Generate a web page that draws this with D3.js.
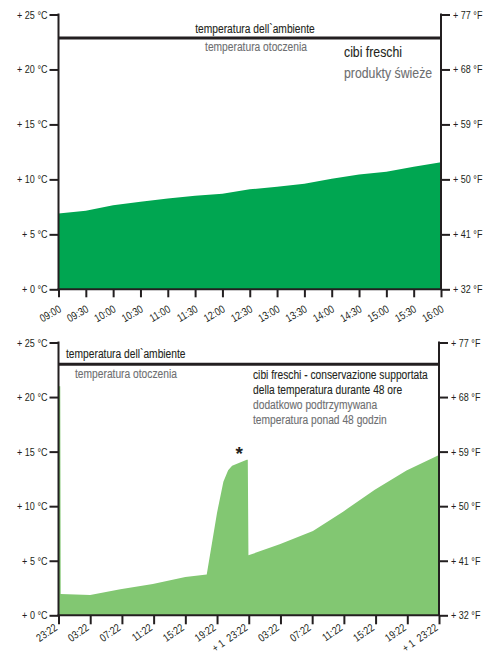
<!DOCTYPE html>
<html>
<head>
<meta charset="utf-8">
<script src="https://cdn.jsdelivr.net/npm/d3@7"></script>
<style>
  html, body { margin: 0; padding: 0; background: #fff; }
  svg { display: block; }
  text { font-family: 'Liberation Sans', Arial, sans-serif; }
</style>
</head>
<body>
<svg id="chart" width="486" height="657"></svg>
<script>
// ---------- data ----------
const topTimes = ["09:00","09:30","10:00","10:30","11:00","11:30","12:00","12:30","13:00","13:30","14:00","14:30","15:00","15:30","16:00"];
const topValues = [6.9, 7.15, 7.65, 7.97, 8.27, 8.5, 8.7, 9.1, 9.33, 9.6, 10.05, 10.45, 10.7, 11.15, 11.55];

const botHours = [0, 0.22, 0.28, 4.0, 7.8, 11.9, 16.0, 18.7, 20.0, 20.8, 21.4, 21.9, 23.75, 23.88, 23.96, 27.9, 32.1, 35.9, 39.9, 43.9, 48];
const botValues = [21, 21, 1.95, 1.86, 2.38, 2.87, 3.51, 3.73, 9.4, 12.25, 13.3, 13.7, 14.25, 14.25, 5.5, 6.5, 7.73, 9.5, 11.5, 13.27, 14.7];
const botTickHours = [0, 4, 8, 12, 16, 20, 24, 28, 32, 36, 40, 44, 48];
const botTickLabels = ["23:22","03:22","07:22","11:22","15:22","19:22","+ 1  23:22","03:22","07:22","11:22","15:22","19:22","+ 1  23:22"];

const celsiusTicks = [0, 5, 10, 15, 20, 25];
const celsiusLabels = ["+ 0 °C","+ 5 °C","+ 10 °C","+ 15 °C","+ 20 °C","+ 25 °C"];
const fahrenheitLabels = ["+ 32 °F","+ 41 °F","+ 50 °F","+ 59 °F","+ 68 °F","+ 77 °F"];
const ambientTemp = 23;
const peakMarkerHour = 22.8;
const peakMarkerTemp = 14.9;

const topTexts = { ambient: "temperatura dell`ambiente", ambientPl: "temperatura otoczenia", title: "cibi freschi", titlePl: "produkty świeże" };
const botTexts = { ambient: "temperatura dell`ambiente", ambientPl: "temperatura otoczenia",
  lines: ["cibi freschi - conservazione supportata", "della temperatura durante 48 ore"],
  linesPl: ["dodatkowo podtrzymywana", "temperatura ponad 48 godzin"] };

// ---------- drawing ----------
const svg = d3.select("#chart");
const dark = "#231f20";
const gray = "#6d6e70";
const SX = 0.82; // condensed look

function label(g, x, y, str, size, color, anchor) {
  return g.append("text")
    .attr("transform", `translate(${x},${y}) scale(${SX},1)`)
    .attr("text-anchor", anchor || "start")
    .attr("fill", color).attr("stroke", color).attr("stroke-width", 0.1)
    .style("font-size", size + "px").text(str);
}

function condenseTicks(axisG) {
  axisG.selectAll(".tick text").each(function () {
    const t = d3.select(this);
    const x = +t.attr("x") || 0;
    t.attr("x", 0).attr("transform", `translate(${x},0) scale(${SX},1)`);
  });
}

function drawYAxes(g, y, left, right) {
  const la = d3.axisLeft(y).tickValues(celsiusTicks).tickSize(9).tickPadding(2)
    .tickFormat((d, i) => celsiusLabels[i]);
  const ra = d3.axisRight(y).tickValues(celsiusTicks).tickSize(9).tickPadding(3)
    .tickFormat((d, i) => fahrenheitLabels[i]);
  const lg = g.append("g").attr("transform", `translate(${left},0)`).call(la);
  const rg = g.append("g").attr("transform", `translate(${right},0)`).call(ra);
  [lg, rg].forEach(a => {
    a.select(".domain").remove();
    a.selectAll(".tick line").attr("stroke", dark).attr("stroke-width", 2);
    a.selectAll(".tick text").attr("fill", dark).style("font-size", "11px");
    condenseTicks(a);
  });
  g.append("line").attr("x1", left).attr("x2", left).attr("y1", y(25) - 1).attr("y2", y(0))
    .attr("stroke", dark).attr("stroke-width", 2);
  g.append("line").attr("x1", right).attr("x2", right).attr("y1", y(25) - 1).attr("y2", y(0))
    .attr("stroke", dark).attr("stroke-width", 2);
}

function styleXTicks(xg, dx, dy, angle) {
  xg.select(".domain").remove();
  xg.selectAll(".tick line").attr("stroke", dark).attr("stroke-width", 2);
  xg.selectAll(".tick text").attr("fill", dark).style("font-size", "11px")
    .style("white-space", "pre")
    .attr("text-anchor", "end").attr("x", 0).attr("y", 0).attr("dy", 0)
    .attr("transform", `translate(${dx},${dy}) rotate(${angle}) scale(${SX},1)`);
}

// ---- top chart ----
{
  const g = svg.append("g");
  const x = d3.scalePoint().domain(topTimes).range([58.5, 441]);
  const y = d3.scaleLinear().domain([0, 25]).range([289.3, 14.5]);

  g.append("path")
    .datum(topTimes.map((t, i) => [t, topValues[i]]))
    .attr("fill", "#00a651")
    .attr("d", d3.area().x(d => x(d[0])).y0(y(0)).y1(d => y(d[1])));

  drawYAxes(g, y, 58.5, 441);

  const xa = d3.axisBottom(x).tickSize(8).tickFormat(d => d);
  const xg = g.append("g").attr("transform", `translate(0,${y(0)})`).call(xa);
  styleXTicks(xg, 3, 22, -30);
  g.append("line").attr("x1", 57.5).attr("x2", 442).attr("y1", y(0)).attr("y2", y(0))
    .attr("stroke", dark).attr("stroke-width", 2);

  // ambient line
  g.append("line").attr("x1", 58.5).attr("x2", 441).attr("y1", y(ambientTemp) + 1.5).attr("y2", y(ambientTemp) + 1.5)
    .attr("stroke", dark).attr("stroke-width", 3);
  label(g, 255, 33, topTexts.ambient, 12.5, dark, "middle");
  label(g, 256, 51, topTexts.ambientPl, 12.5, gray, "middle");
  label(g, 344, 57, topTexts.title, 15, dark);
  label(g, 344, 78, topTexts.titlePl, 15, gray);
}

// ---- bottom chart ----
{
  const g = svg.append("g");
  const x = d3.scaleLinear().domain([0, 48]).range([58.5, 439]);
  const y = d3.scaleLinear().domain([0, 25]).range([615.3, 342.5]);

  g.append("path")
    .datum(botHours.map((h, i) => [h, botValues[i]]))
    .attr("fill", "#82c772")
    .attr("d", d3.area().x(d => x(d[0])).y0(y(0)).y1(d => y(d[1])));

  drawYAxes(g, y, 58.5, 439);

  const xa = d3.axisBottom(x).tickValues(botTickHours).tickSize(9)
    .tickFormat((d, i) => botTickLabels[i]);
  const xg = g.append("g").attr("transform", `translate(0,${y(0)})`).call(xa);
  styleXTicks(xg, -1, 14, -35);
  g.append("line").attr("x1", 57.5).attr("x2", 440).attr("y1", y(0)).attr("y2", y(0))
    .attr("stroke", dark).attr("stroke-width", 2);

  g.append("line").attr("x1", 58.5).attr("x2", 439).attr("y1", y(ambientTemp)).attr("y2", y(ambientTemp))
    .attr("stroke", dark).attr("stroke-width", 3);
  label(g, 66, 358, botTexts.ambient, 12.5, dark);
  label(g, 75, 378, botTexts.ambientPl, 12.5, gray);
  botTexts.lines.forEach((t, i) => label(g, 253, 379 + i * 15, t, 12.5, dark));
  botTexts.linesPl.forEach((t, i) => label(g, 253, 409 + i * 15, t, 12.5, gray));
  g.append("text").attr("x", x(peakMarkerHour)).attr("y", y(peakMarkerTemp) + 7)
    .attr("text-anchor", "middle").attr("fill", dark).style("font-size", "19px").style("font-weight", "bold").text("*");
}
</script>
</body>
</html>
